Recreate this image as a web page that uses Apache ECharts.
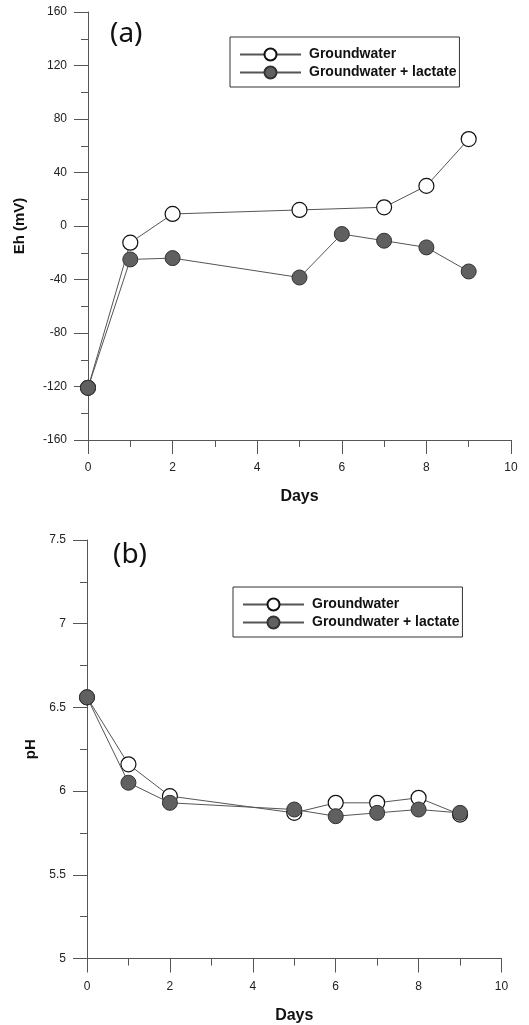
<!DOCTYPE html>
<html><head><meta charset="utf-8">
<script src="https://cdn.jsdelivr.net/npm/echarts@6/dist/echarts.min.js"></script>
<style>html,body{margin:0;padding:0;background:#fff}#c{width:529px;height:1025px}</style>
</head><body><div id="c"></div>
<script>
const days = [0, 1, 2, 5, 6, 7, 8, 9];
const ehDays = [0, 1, 2, 5, 7, 8, 9];
const ehGroundwater = [-121, -12.5, 9, 12, 14, 30, 65];
const ehLactateDays = [0, 1, 2, 5, 6, 7, 8, 9];
const ehLactate = [-121, -25, -24, -38.5, -6, -11, -16, -34];
const phGroundwater = [6.56, 6.16, 5.97, 5.87, 5.93, 5.93, 5.96, 5.86];
const phLactate = [6.56, 6.05, 5.93, 5.89, 5.85, 5.87, 5.89, 5.87];
const seriesNames = ['Groundwater', 'Groundwater + lactate'];
const panelLabels = ['(a)', '(b)'];

const pair = (xs, ys) => xs.map((x, i) => [x, ys[i]]);
const font = 'Liberation Sans, Arial, sans-serif';
const axisCol = '#555';

function xAxis(gi) {
  return {
    type: 'value', gridIndex: gi, min: 0, max: 10, interval: 2,
    name: 'Days', nameLocation: 'middle', nameGap: 49,
    nameTextStyle: {fontFamily: font, fontWeight: 'bold', fontSize: 16, color: '#111'},
    axisLine: {show: true, onZero: false, lineStyle: {color: axisCol, width: 1}},
    axisTick: {show: true, length: 14, lineStyle: {color: axisCol}},
    minorTick: {show: true, splitNumber: 2, length: 7, lineStyle: {color: axisCol}},
    axisLabel: {fontFamily: font, fontSize: 12, color: '#222', margin: 22},
    splitLine: {show: false}
  };
}
function yAxis(gi, min, max, interval, name, gap, fmt) {
  return {
    type: 'value', gridIndex: gi, min: min, max: max, interval: interval,
    name: name, nameLocation: 'middle', nameGap: gap, nameRotate: 90,
    nameTextStyle: {fontFamily: font, fontWeight: 'bold', fontSize: 15, color: '#111'},
    axisLine: {show: true, onZero: false, lineStyle: {color: axisCol, width: 1}},
    axisTick: {show: true, length: 14, lineStyle: {color: axisCol}},
    minorTick: {show: true, splitNumber: 2, length: 7, lineStyle: {color: axisCol}},
    axisLabel: {fontFamily: font, fontSize: 12, color: '#222', margin: 21, formatter: fmt},
    splitLine: {show: false}
  };
}
const openStyle = {color: '#fff', borderColor: '#111', borderWidth: 1.2};
const fillStyle = {color: '#606060', borderColor: '#333', borderWidth: 1};
function series(name, gi, data, st, z) {
  return {
    name: name, type: 'line', xAxisIndex: gi, yAxisIndex: gi, data: data,
    symbol: 'circle', symbolSize: 15, z: z,
    lineStyle: {color: '#555', width: 1}, itemStyle: st, emphasis: {disabled: true}
  };
}
function legend(left, top) {
  return {
    orient: 'vertical', left: left, top: top, align: 'left',
    data: seriesNames, itemWidth: 61, itemHeight: 15, itemGap: 4,
    padding: [10.5, 3, 7.5, 9], borderColor: '#333', borderWidth: 1,
    selectedMode: false,
    textStyle: {fontFamily: font, fontWeight: 'bold', fontSize: 14, color: '#111', padding: [0, 0, 0, 3]}
  };
}
const chart = echarts.init(document.getElementById('c'));
chart.setOption({
  animation: false,
  backgroundColor: '#fff',
  grid: [
    {left: 88, top: 12, width: 423, height: 428},
    {left: 87, top: 540, width: 414.5, height: 418.5}
  ],
  xAxis: [xAxis(0), xAxis(1)],
  yAxis: [
    yAxis(0, -160, 160, 40, 'Eh (mV)', 61),
    yAxis(1, 5, 7.5, 0.5, 'pH', 49)
  ],
  legend: [legend(230, 37), legend(233, 587)],
  series: [
    series(seriesNames[0], 0, pair(ehDays, ehGroundwater), openStyle, 2),
    series(seriesNames[1], 0, pair(ehLactateDays, ehLactate), fillStyle, 3),
    series(seriesNames[0], 1, pair(days, phGroundwater), openStyle, 2),
    series(seriesNames[1], 1, pair(days, phLactate), fillStyle, 3)
  ],
  graphic: [
    {type: 'text', left: 110, top: 20, style: {text: panelLabels[0], font: '28px "Noto Sans", sans-serif', fill: '#111'}},
    {type: 'text', left: 113, top: 541, style: {text: panelLabels[1], font: '28px "Noto Sans", sans-serif', fill: '#111'}}
  ]
});
</script></body></html>
